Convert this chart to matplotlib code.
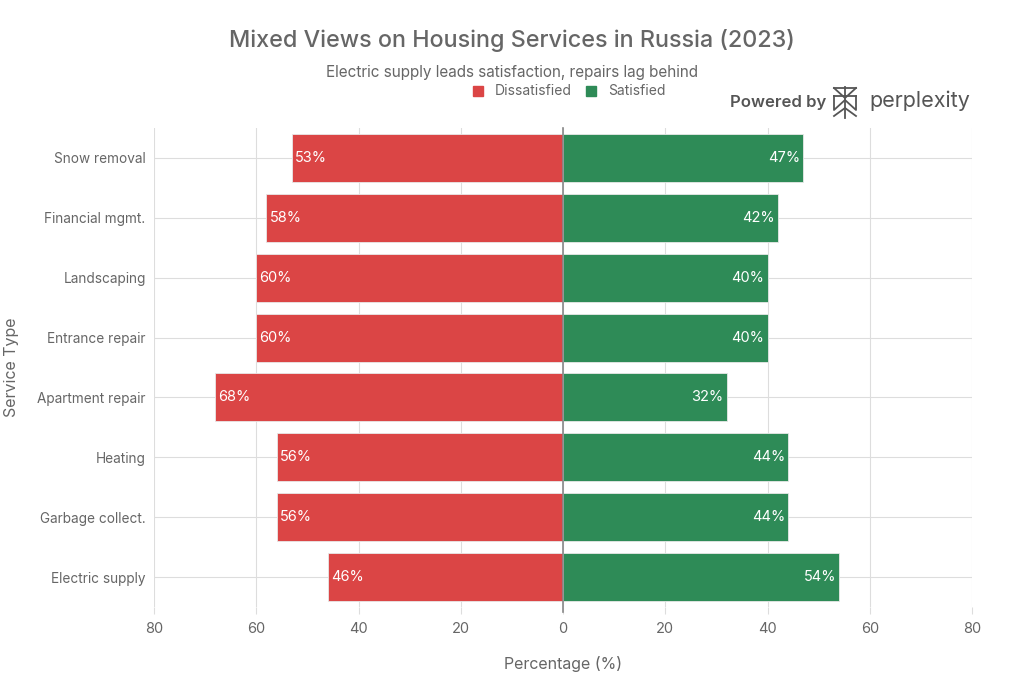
import matplotlib
matplotlib.use("Agg")
import matplotlib.pyplot as plt
from matplotlib.patches import Rectangle
import numpy as np

categories = ["Electric supply", "Garbage collect.", "Heating", "Apartment repair",
              "Entrance repair", "Landscaping", "Financial mgmt.", "Snow removal"]
dissatisfied = [46, 56, 56, 68, 60, 60, 58, 53]
satisfied = [54, 44, 44, 32, 40, 40, 42, 47]
x_ticks = [-80, -60, -40, -20, 0, 20, 40, 60, 80]
x_tick_labels = ["80", "60", "40", "20", "0", "20", "40", "60", "80"]

RED = "#DB4545"
GREEN = "#2E8B57"
TXT = "#666666"

plt.rcParams['font.family'] = ['Inter', 'DejaVu Sans']

fig = plt.figure(figsize=(10.24, 6.83), dpi=100)
ax = fig.add_axes([154/1024, 1-607/683, (972-154)/1024, (607-128)/683])

y = np.arange(len(categories))
ax.barh(y, [-d for d in dissatisfied], height=0.8, color=RED, edgecolor="#e8e8e8", linewidth=0.6, zorder=3)
ax.barh(y, satisfied, height=0.8, color=GREEN, edgecolor="#e8e8e8", linewidth=0.6, zorder=3)

for i, (d, s) in enumerate(zip(dissatisfied, satisfied)):
    ax.text(-d + 0.6, i, f"{d}%", color="white", ha="left", va="center", fontsize=10.5, zorder=4)
    ax.text(s - 0.6, i, f"{s}%", color="white", ha="right", va="center", fontsize=10.5, zorder=4)

ax.set_xlim(-80, 80)
ax.set_ylim(-0.5, 7.5)
ax.set_xticks(x_ticks)
ax.set_xticklabels(x_tick_labels, color=TXT, fontsize=10.5)
ax.set_yticks(y)
ax.set_yticklabels(categories, color=TXT, fontsize=9.8)
ax.tick_params(axis='x', length=5, color="#dddddd", pad=6)
ax.tick_params(axis='y', length=0, pad=6)
ax.grid(True, color="#dddddd", linewidth=0.8, zorder=0)
ax.set_axisbelow(True)
for sp in ax.spines.values():
    sp.set_visible(False)
ax.axvline(0, color="#888888", linewidth=1.2, zorder=5, ymin=-0.01, clip_on=False)

ax.set_xlabel("Percentage (%)", color=TXT, fontsize=11.5, labelpad=14)
fig.text(12/1024, 1-367/683, "Service Type", rotation=90, ha="center", va="center",
         fontsize=11.5, color=TXT)

fig.text(0.5, 1-40/683, "Mixed Views on Housing Services in Russia (2023)", ha="center", va="center",
         fontsize=16.8, color=TXT, fontweight="medium")
fig.text(0.5, 1-72/683, "Electric supply leads satisfaction, repairs lag behind", ha="center", va="center",
         fontsize=11, color=TXT)

# legend
ly = 1-91/683
lx = 473/1024
fig.patches.append(Rectangle((lx, ly - 5/683), 10/1024, 10/683, transform=fig.transFigure, color=RED))
fig.text(495/1024, ly, "Dissatisfied", va="center", ha="left", fontsize=10, color=TXT)
gx = 586/1024
fig.patches.append(Rectangle((gx, ly - 5/683), 10/1024, 10/683, transform=fig.transFigure, color=GREEN))
fig.text(608/1024, ly, "Satisfied", va="center", ha="left", fontsize=10, color=TXT)

# Powered by perplexity
fig.text(826/1024, 1-103/683, "Powered by", ha="right", va="center", fontsize=12, color="#555555",
         fontweight="semibold")
fig.text(970/1024, 1-101/683, "perplexity", ha="right", va="center", fontsize=15.5, color="#555555")
def L(xs, ys):
    fig.add_artist(plt.Line2D([v/1024 for v in xs], [1-v/683 for v in ys], color="#555555",
                              linewidth=1.3, transform=fig.transFigure))
L([845, 845], [87, 118])
L([834, 856], [88, 88])
L([834, 845, 856], [88, 98, 88])
L([834, 834, 845, 856, 856], [96, 110, 100, 110, 96])
L([834, 856], [96, 96])
L([834, 845, 856], [116, 108, 116])

fig.savefig("out.png", dpi=100, facecolor="white")
